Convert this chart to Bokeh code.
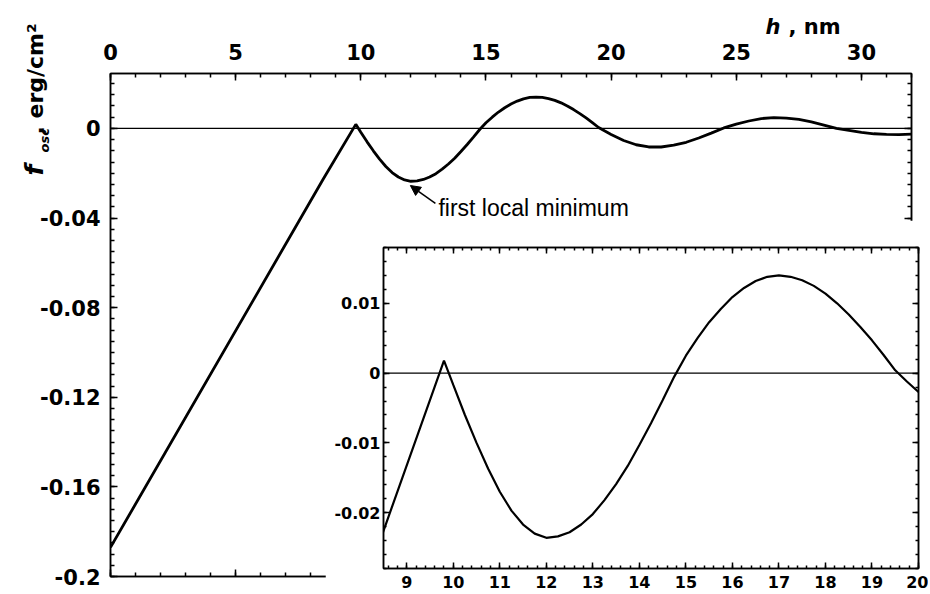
import numpy as np
from bokeh.plotting import figure
from bokeh.models import (LinearAxis, FixedTicker, Span, Label, Arrow, NormalHead,
                          CustomJSTickFormatter, Range1d, ColumnDataSource)
from bokeh.embed import file_html
from bokeh.resources import INLINE

# ---------------- data ----------------
h_nm = [0.0, 8.5, 9.8,
        10.0, 10.25, 10.5, 10.75, 11.0, 11.25, 11.5, 11.75, 12.0, 12.25, 12.5, 12.75,
        13.0, 13.25, 13.5, 13.75, 14.0, 14.25, 14.5, 14.75, 15.0, 15.25, 15.5, 15.75,
        16.0, 16.25, 16.5, 16.75, 17.0, 17.25, 17.5, 17.75, 18.0, 18.25, 18.5, 18.75,
        19.0, 19.25, 19.5, 19.75, 20.0,
        20.5, 21.0, 21.5, 22.0, 22.5, 23.0, 23.5, 24.0, 24.5, 25.0, 25.5, 26.0, 26.5,
        27.0, 27.5, 28.0, 28.5, 29.0, 29.5, 30.0, 30.5, 31.0, 31.5, 32.0]
f_osc = [-0.187, -0.0226, 0.0018,
         -0.0017, -0.0060, -0.0100, -0.0137, -0.0170, -0.0197, -0.0217, -0.0230, -0.0236,
         -0.0234, -0.0228, -0.0217, -0.0202, -0.0182, -0.0159, -0.0133, -0.0103, -0.0072,
         -0.0039, -0.0005, 0.0025, 0.0050, 0.0073, 0.0092, 0.0109, 0.0122, 0.0132, 0.0138,
         0.0140, 0.0138, 0.0133, 0.0125, 0.0114, 0.0100, 0.0084, 0.0066, 0.0047, 0.0026,
         0.0004, -0.0012, -0.0027,
         -0.0054, -0.0073, -0.0083, -0.0083, -0.0075, -0.0062, -0.0043, -0.0021, 0.0002,
         0.0019, 0.0033, 0.0044, 0.0048, 0.0046, 0.0040, 0.0029, 0.0015, 0.0000, -0.0009,
         -0.0018, -0.0024, -0.0027, -0.0028, -0.0026]

main_x_ticks = [0, 5, 10, 15, 20, 25, 30]
main_x_labels = ["0", "5", "10", "15", "20", "25", "30"]
main_y_ticks = [-0.2, -0.16, -0.12, -0.08, -0.04, 0]
main_y_labels = ["-0.2", "-0.16", "-0.12", "-0.08", "-0.04", "0"]
inset_x_ticks = [9, 10, 11, 12, 13, 14, 15, 16, 17, 18, 19, 20]
inset_x_labels = ["9", "10", "11", "12", "13", "14", "15", "16", "17", "18", "19", "20"]
inset_y_ticks = [-0.02, -0.01, 0, 0.01]
inset_y_labels = ["-0.02", "-0.01", "0", "0.01"]
annotation_text = "first local minimum"

# ---------------- styling ----------------
TICK_FONT = "DejaVu Sans"
blank = CustomJSTickFormatter(code="return ''")

src = ColumnDataSource(data=dict(h=h_nm, f=f_osc))

main_x_minor = list(np.round(np.arange(0, 33, 1.0), 3))
main_y_minor = list(np.round(np.arange(-0.2, 0.0246, 0.005), 4))
inset_x_minor = list(np.round(np.arange(8.6, 20.01, 0.2), 3))
inset_y_minor = list(np.round(np.arange(-0.028, 0.0181, 0.002), 4))


def style_axis(ax, ticks, minor, labels=None, size="21px", tin=7, mtin=4, standoff=10):
    ax.ticker = FixedTicker(ticks=ticks, minor_ticks=minor)
    ax.major_tick_in = tin
    ax.major_tick_out = 0
    ax.minor_tick_in = mtin
    ax.minor_tick_out = 0
    ax.axis_line_color = "black"
    ax.axis_line_width = 1.5
    ax.major_tick_line_width = 1.5
    ax.minor_tick_line_width = 1.5
    if labels is None:
        ax.formatter = blank
        ax.major_label_standoff = 0
    else:
        ax.major_label_overrides = dict(zip(ticks, labels))
        ax.major_label_text_font = TICK_FONT
        ax.major_label_text_font_style = "bold"
        ax.major_label_text_font_size = size
        ax.major_label_text_color = "black"
        ax.major_label_standoff = standoff


def overlay(left, top, w, h):
    # transparent canvas; its data units are page pixels (y measured upward)
    f = figure(frame_width=w, frame_height=h, x_range=Range1d(0, w),
               y_range=Range1d(0, h), x_axis_location=None,
               y_axis_location=None, output_backend="svg", toolbar_location=None,
               min_border=0, background_fill_alpha=0, border_fill_alpha=0,
               outline_line_color=None,
               styles={"position": "absolute", "left": f"{left}px", "top": f"{top}px"})
    f.grid.visible = False
    return f


def title_label(x, y, text, size, style="bold", angle=0.0):
    return Label(x=x, y=y, text=text, text_font=TICK_FONT, text_font_style=style,
                 text_font_size=size, text_color="black", angle=angle,
                 text_baseline="alphabetic", text_align="left")


# ---------------- main figure ----------------
p = figure(frame_width=801, frame_height=503, x_range=Range1d(0, 32),
           y_range=Range1d(-0.2, 0.0245), x_axis_location="above",
           output_backend="svg", toolbar_location=None,
           min_border_left=110, min_border_top=73, min_border_right=3,
           min_border_bottom=18, background_fill_color="white",
           border_fill_color="white", outline_line_color="black",
           outline_line_width=1.5)
p.grid.visible = False
style_axis(p.xaxis[0], main_x_ticks, main_x_minor, main_x_labels, standoff=14)
style_axis(p.yaxis[0], main_y_ticks, main_y_minor, main_y_labels, standoff=10)
ax_b = LinearAxis()
style_axis(ax_b, main_x_ticks, main_x_minor)
p.add_layout(ax_b, "below")
ax_r = LinearAxis()
style_axis(ax_r, main_y_ticks, main_y_minor)
p.add_layout(ax_r, "right")

p.add_layout(Span(location=0, dimension="width", line_color="black", line_width=1.2))
p.line("h", "f", source=src, line_color="black", line_width=2.8)

# annotation
p.add_layout(Arrow(end=NormalHead(size=10, fill_color="black", line_color="black"),
                   x_start=12.98, y_start=-0.0335, x_end=11.98, y_end=-0.0255,
                   line_color="black", line_width=1.5))
p.add_layout(Label(x=13.1, y=-0.0354, text=annotation_text, text_font="Liberation Sans",
                   text_font_size="23px", text_color="black",
                   text_baseline="alphabetic", text_align="left"))

# ---------------- inset figure ----------------
q = figure(frame_width=535, frame_height=321, x_range=Range1d(8.5, 20),
           y_range=Range1d(-0.028, 0.018), output_backend="svg", toolbar_location=None,
           min_border_left=58, min_border_top=27, min_border_right=10,
           min_border_bottom=24, background_fill_color="white",
           border_fill_color="white", outline_line_color="black",
           outline_line_width=1.5,
           styles={"position": "absolute", "left": "325px", "top": "220px"})
q.grid.visible = False
style_axis(q.xaxis[0], inset_x_ticks, inset_x_minor, inset_x_labels, size="16px",
           tin=6, mtin=3, standoff=7)
style_axis(q.yaxis[0], inset_y_ticks, inset_y_minor, inset_y_labels, size="16px",
           tin=6, mtin=3, standoff=3)
ax_t = LinearAxis()
style_axis(ax_t, inset_x_ticks, inset_x_minor, tin=6, mtin=3)
q.add_layout(ax_t, "above")
ax_r2 = LinearAxis()
style_axis(ax_r2, inset_y_ticks, inset_y_minor, tin=6, mtin=3)
q.add_layout(ax_r2, "right")

q.add_layout(Span(location=0, dimension="width", line_color="black", line_width=1.2))
q.line("h", "f", source=src, line_color="black", line_width=2.2)

# ---------------- axis titles (transparent overlays) ----------------
YH = 200
ylab = overlay(0, 0, 70, YH)
ylab.add_layout(title_label(34, YH - 175, "f", "25px", "bold italic", np.pi / 2))
ylab.add_layout(title_label(44, YH - 152, "osc", "13px", "bold italic", np.pi / 2))
ylab.add_layout(title_label(35, YH - 134, ", erg/cm\u00b2", "22px", "bold", np.pi / 2))

HH = 45
hlab = overlay(740, 0, 140, HH)
hlab.add_layout(title_label(25, HH - 26, "h", "21px", "bold italic"))
hlab.add_layout(title_label(48, HH - 26, ", nm", "21px", "bold"))

open("out.html", "w").write(file_html([p, q, ylab, hlab], INLINE))
